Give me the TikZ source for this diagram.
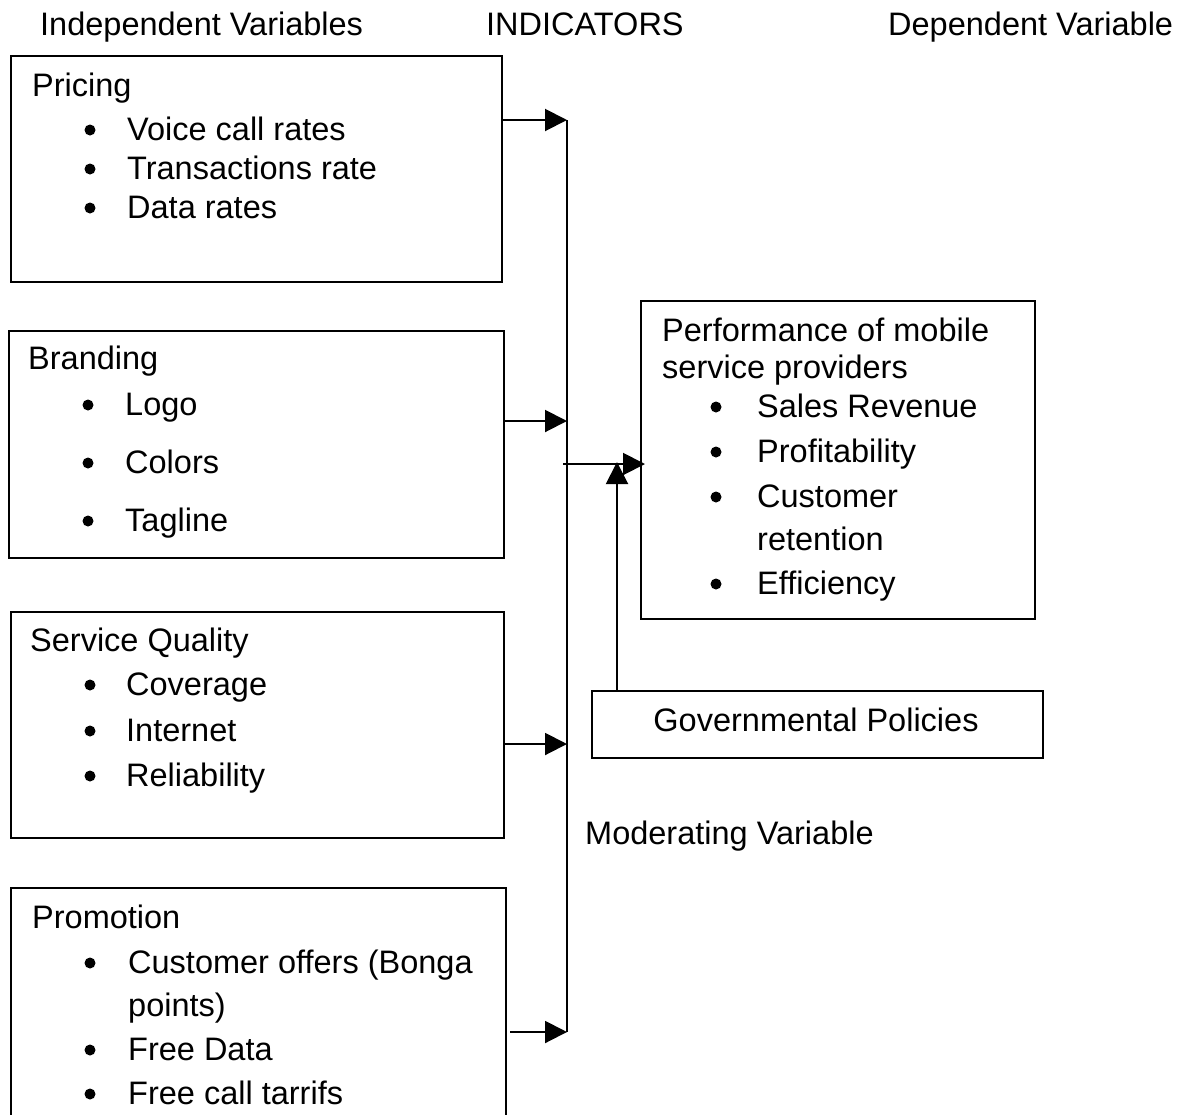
\documentclass[tikz,border=0pt]{standalone}
\usepackage{fontspec}
\setmainfont{Liberation Sans}
\usetikzlibrary{arrows.meta}
\tikzset{
  %% Styles %%
  varbox/.style = {draw, line width=2pt, inner sep=0pt, anchor=north west},
  txt/.style = {anchor=base west, inner sep=0pt, font=\fontsize{32.5}{38}\selectfont},
  dot/.style = {circle, fill, inner sep=0pt, minimum size=11pt},
  conn/.style = {line width=2pt, -{Triangle[length=22pt, width=22pt]}},
  bus/.style = {line width=2pt},
}

\begin{document}
\begin{tikzpicture}[x=1pt, y=-1pt]
  \clip (0,0) rectangle (1182,1114);

  % headings
  \node[txt] (hIndep) at (40,35) {Independent Variables};
  \node[txt] (hInd) at (486,35) {INDICATORS};
  \node[txt] (hDep) at (888,35) {Dependent Variable};

  % independent variables
  \node[varbox, minimum width=491pt, minimum height=226pt] (pricing) at (10,55) {};
  \node[txt] (pricingT) at (32,96) {Pricing};
  \foreach \y/\t [count=\i] in {140/Voice call rates, 179/Transactions rate, 218/Data rates} {
    \node[dot] (pd\i) at (90,\y-10) {};
    \node[txt] (pi\i) at (127,\y) {\t};
  }

  \node[varbox, minimum width=495pt, minimum height=227pt] (branding) at (8,330) {};
  \node[txt] (brandingT) at (28,369) {Branding};
  \foreach \y/\t [count=\i] in {415/Logo, 473/Colors, 531/Tagline} {
    \node[dot] (bd\i) at (88,\y-10) {};
    \node[txt] (bi\i) at (125,\y) {\t};
  }

  \node[varbox, minimum width=493pt, minimum height=226pt] (quality) at (10,611) {};
  \node[txt] (qualityT) at (30,651) {Service Quality};
  \foreach \y/\t [count=\i] in {695/Coverage, 741/Internet, 786/Reliability} {
    \node[dot] (qd\i) at (90,\y-10) {};
    \node[txt] (qi\i) at (126,\y) {\t};
  }

  \node[varbox, minimum width=495pt, minimum height=240pt] (promotion) at (10,887) {};
  \node[txt] (promotionT) at (32,928) {Promotion};
  \foreach \y/\t [count=\i] in {973/Customer offers (Bonga, 1060/Free Data, 1104/Free call tarrifs} {
    \node[dot] (md\i) at (90,\y-10) {};
    \node[txt] (mi\i) at (128,\y) {\t};
  }
  \node[txt] (mi4) at (128,1016) {points)};

  % dependent variable
  \node[varbox, minimum width=394pt, minimum height=318pt] (perf) at (640,300) {};
  \node[txt] (perfT1) at (662,341) {Performance of mobile};
  \node[txt] (perfT2) at (662,378) {service providers};
  \foreach \y/\t [count=\i] in {417/Sales Revenue, 462/Profitability, 507/Customer, 594/Efficiency} {
    \node[dot] (fd\i) at (716,\y-10) {};
    \node[txt] (fi\i) at (757,\y) {\t};
  }
  \node[txt] (fi5) at (757,550) {retention};

  % moderating variable
  \node[varbox, minimum width=451pt, minimum height=67pt] (gov) at (591,690) {};
  \node[txt, anchor=base] (govT) at (816,731) {Governmental Policies};
  \node[txt] (modT) at (585,844) {Moderating Variable};

  % connectors
  \coordinate (b1) at (567,120);
  \coordinate (b2) at (567,421);
  \coordinate (b3) at (567,744);
  \coordinate (b4) at (567,1032);
  \coordinate (junc) at (563,464);
  \coordinate (modTip) at (617,462);
  \draw[bus] (b1) -- (b4);
  \draw[conn] (pricing.east |- b1) -- (b1);
  \draw[conn] (branding.east |- b2) -- (b2);
  \draw[conn] (quality.east |- b3) -- (b3);
  \draw[conn] ([xshift=3pt]promotion.east |- b4) -- (b4);
  \draw[conn] (junc) -- ([xshift=5pt]perf.west |- junc);
  \draw[conn] (gov.north west -| modTip) -- (modTip);
\end{tikzpicture}
\end{document}
